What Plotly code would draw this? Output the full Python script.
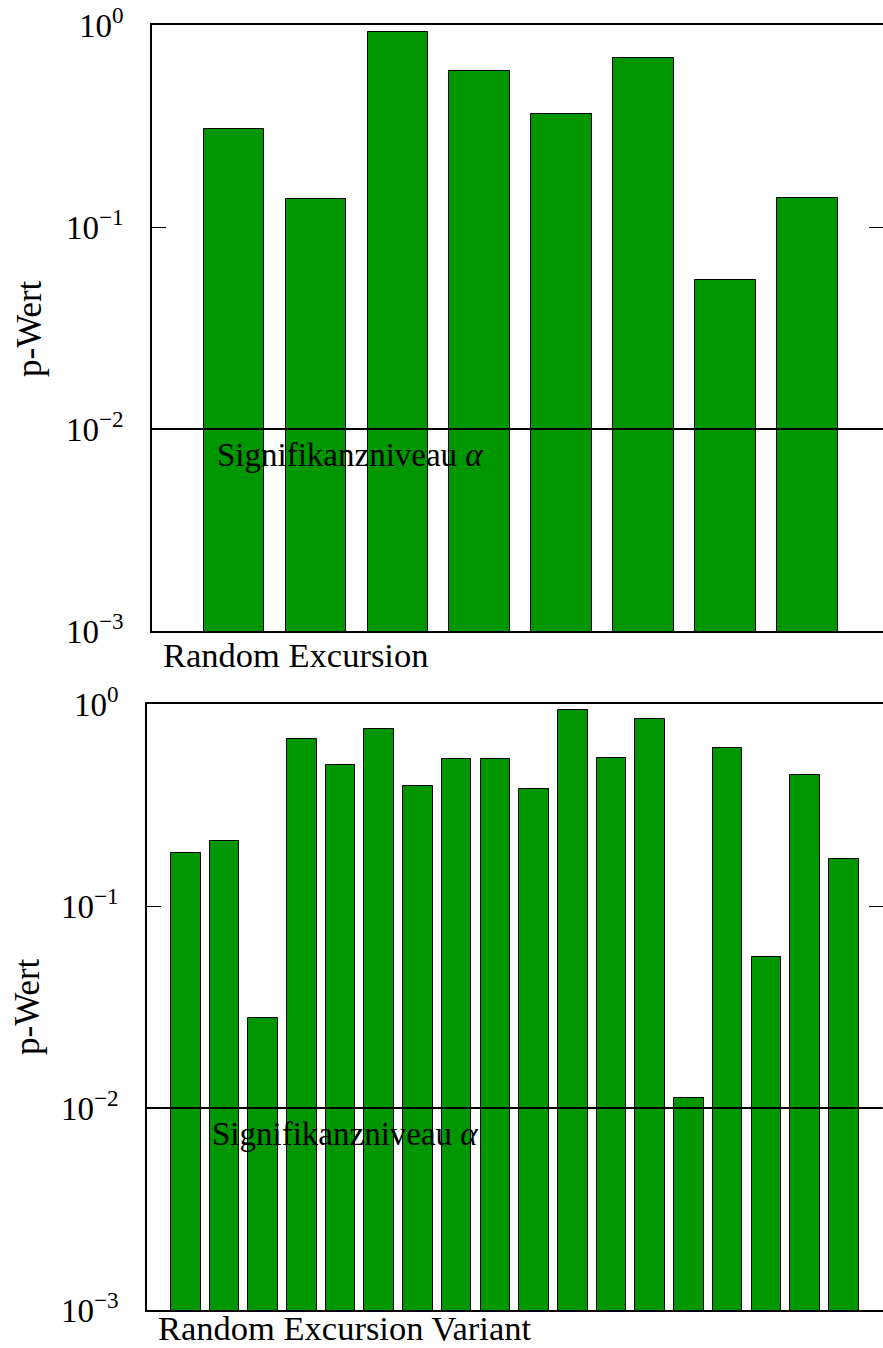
import plotly.graph_objects as go

# ---- data ----
top_values = [0.305, 0.138, 0.923, 0.592, 0.362, 0.689, 0.0547, 0.139]
bottom_values = [0.183, 0.210, 0.0279, 0.671, 0.499, 0.752, 0.393, 0.534, 0.534,
                 0.380, 0.934, 0.540, 0.843, 0.0112, 0.604, 0.056, 0.447, 0.170]
top_x = list(range(1, len(top_values) + 1))
bottom_x = list(range(1, len(bottom_values) + 1))
alpha_level = 0.01
tick_vals = [1e-3, 1e-2, 1e-1, 1]
tick_text = ["10<sup>−3</sup>", "10<sup>−2</sup>", "10<sup>−1</sup>", "10<sup>0</sup>"]
top_label = "Random Excursion"
bottom_label = "Random Excursion Variant"
y_title = "p-Wert"
alpha_text = "Signifikanzniveau <i>α</i>"

W, H = 883, 1348
FONT = "Liberation Serif"
GREEN = "#009600"


def px(x):
    return x / W


def py(y):
    return 1 - y / H


fig = go.Figure()
fig.add_trace(go.Bar(x=top_x, y=top_values, width=0.74, marker=dict(color=GREEN, line=dict(color="black", width=1)),
                     xaxis="x", yaxis="y", showlegend=False))
fig.add_trace(go.Bar(x=bottom_x, y=bottom_values, width=0.765, marker=dict(color=GREEN, line=dict(color="black", width=1)),
                     xaxis="x2", yaxis="y2", showlegend=False))

yax = dict(type="log", range=[-3, 0], tickvals=tick_vals, ticktext=tick_text, ticks="inside", ticklen=14,
           tickwidth=1.2, tickcolor="black", showline=True, linecolor="black", linewidth=1.5, mirror="ticks",
           showgrid=False, zeroline=False, tickfont=dict(family=FONT, size=33, color="black"),
           ticklabelstandoff=20, automargin=False)
xax = dict(showline=True, linecolor="black", linewidth=1.5, mirror=True, ticks="", showticklabels=False,
           showgrid=False, zeroline=False, automargin=False)

fig.update_layout(
    width=W, height=H, margin=dict(l=0, r=0, t=0, b=0, autoexpand=False),
    paper_bgcolor="white", plot_bgcolor="white",
    xaxis=dict(xax, domain=[px(152), 1], range=[0, 8.92], anchor="y"),
    yaxis=dict(yax, domain=[py(631), py(25)], anchor="x"),
    xaxis2=dict(xax, domain=[px(147), px(882.5)], range=[0, 19], anchor="y2"),
    yaxis2=dict(yax, domain=[py(1310), py(704)], anchor="x2"),
    bargap=0,
)

for xr, yr in [("x", "y"), ("x2", "y2")]:
    fig.add_shape(type="line", xref=f"{xr} domain", yref=yr, x0=0, x1=1, y0=alpha_level, y1=alpha_level,
                  line=dict(color="black", width=2), layer="above")

annots = [
    dict(x=px(215), y=py(455), text=alpha_text, xanchor="left", yanchor="middle", size=33),
    dict(x=px(210), y=py(1134), text=alpha_text, xanchor="left", yanchor="middle", size=33),
    dict(x=px(161), y=py(655), text=top_label, xanchor="left", yanchor="middle", size=34.5),
    dict(x=px(157), y=0, text=bottom_label, xanchor="left", yanchor="bottom", size=34.5, borderpad=0),
    dict(x=px(30), y=py(328), text=y_title, xanchor="center", yanchor="middle", textangle=-90, size=35),
    dict(x=px(27), y=py(1007), text=y_title, xanchor="center", yanchor="middle", textangle=-90, size=35),
]
for a in annots:
    size = a.pop("size")
    fig.add_annotation(xref="paper", yref="paper", showarrow=False,
                       font=dict(family=FONT, size=size, color="black"), **a)

fig.write_html("out.html")
